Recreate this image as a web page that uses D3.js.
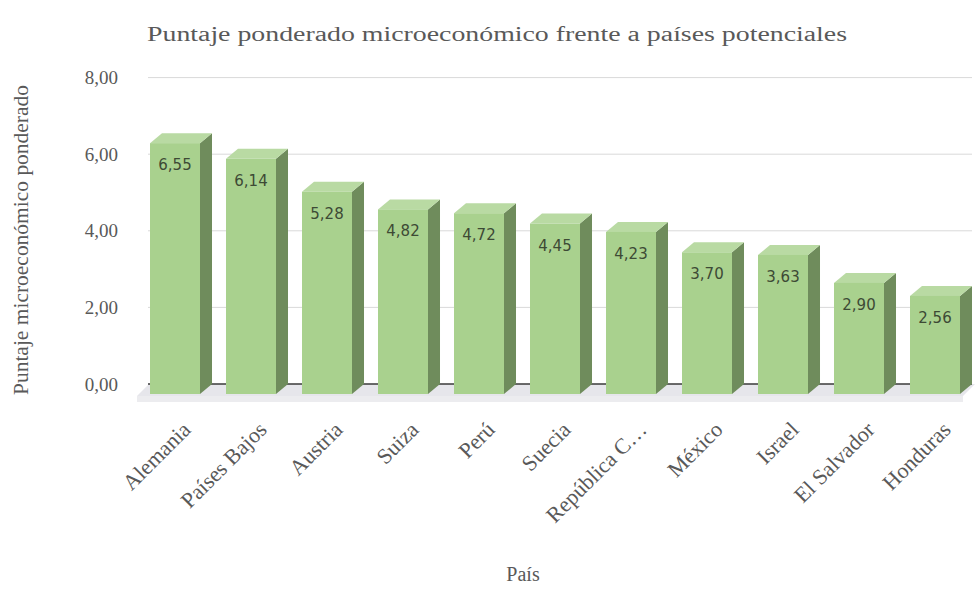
<!DOCTYPE html>
<html><head><meta charset="utf-8">
<script src="https://cdn.jsdelivr.net/npm/d3@7"></script>
<style>body{margin:0;background:#fff}</style>
</head><body><svg id="c" width="978" height="591"></svg>
<script>
const categories = ["Alemania","Países Bajos","Austria","Suiza","Perú","Suecia","República C…","México","Israel","El Salvador","Honduras"];
const values = [6.55,6.14,5.28,4.82,4.72,4.45,4.23,3.70,3.63,2.90,2.56];
const yTicks = [0,2,4,6,8];
const titleText = "Puntaje ponderado microeconómico frente a países potenciales";
const yTitle = "Puntaje microeconómico ponderado";
const xTitle = "País";

const svg = d3.select("#c");
const serif = "'Liberation Serif', 'DejaVu Serif', serif";
const dx = 12, dy = -10;
const x = d3.scaleBand().domain(categories).range([137, 973]).paddingInner(0.342).paddingOuter(0.171);
const y = d3.scaleLinear().domain([0, 8]).range([394, 87.6]);
const fmt = v => d3.format(".2f")(v).replace(".", ",");

// floor
const floorBack = y(0) + dy;
svg.append("polygon")
  .attr("points", [[137+dx, floorBack],[973+dx-10, floorBack],[973-10, y(0)+2],[137, y(0)+2]].map(p=>p.join(",")).join(" "))
  .attr("fill", "#e6e6eb");
svg.append("rect").attr("x", 137).attr("y", y(0)+2).attr("width", 826).attr("height", 6).attr("fill", "#ececef");

// gridlines on back wall
svg.append("g").selectAll("line").data(yTicks).join("line")
  .attr("x1", 148).attr("x2", 972)
  .attr("y1", d => y(d) + dy).attr("y2", d => y(d) + dy)
  .attr("stroke", d => d === 0 ? "#3a3a3a" : "#d9d9d9")
  .attr("stroke-width", d => d === 0 ? 1.5 : 1);

// tick labels
svg.append("g").selectAll("text").data(yTicks).join("text")
  .attr("x", 118).attr("y", d => y(d) + dy).attr("dy", "0.35em")
  .attr("text-anchor", "end").attr("font-family", serif).attr("font-size", 19)
  .attr("fill", "#595959").text(d => fmt(d));

// bars
const bars = svg.append("g").selectAll("g").data(categories).join("g");
bars.each(function(c, i) {
  const g = d3.select(this);
  const x0 = x(c), w = x.bandwidth(), yt = y(values[i]), yb = y(0);
  g.append("polygon")
    .attr("points", [[x0+w, yt],[x0+w+dx, yt+dy],[x0+w+dx, yb+dy],[x0+w, yb]].map(p=>p.join(",")).join(" "))
    .attr("fill", "#6f8c5c");
  g.append("polygon")
    .attr("points", [[x0, yt],[x0+dx, yt+dy],[x0+w+dx, yt+dy],[x0+w, yt]].map(p=>p.join(",")).join(" "))
    .attr("fill", "#b9daa3");
  g.append("rect").attr("x", x0).attr("y", yt).attr("width", w).attr("height", yb - yt).attr("fill", "#a9d18e");
  g.append("text").attr("x", x0 + w/2).attr("y", yt + 27)
    .attr("text-anchor", "middle").attr("font-family", "'DejaVu Sans', sans-serif").attr("font-size", 15)
    .attr("fill", "#3d4a35").text(fmt(values[i]));
});

// x labels
svg.append("g").selectAll("text").data(categories).join("text")
  .attr("transform", c => `translate(${x(c) + x.bandwidth()/2 + 17},${431}) rotate(-45)`)
  .attr("text-anchor", "end").attr("font-family", serif).attr("font-size", 22)
  .attr("fill", "#595959").text(c => c);

// titles
svg.append("text").attr("x", 497).attr("y", 41).attr("text-anchor", "middle")
  .attr("font-family", serif).attr("font-size", 20).attr("fill", "#595959")
  .attr("textLength", 700).attr("lengthAdjust", "spacingAndGlyphs").text(titleText);
svg.append("text").attr("transform", "translate(28,240) rotate(-90)").attr("text-anchor", "middle")
  .attr("font-family", serif).attr("font-size", 20).attr("fill", "#595959")
  .attr("textLength", 310).attr("lengthAdjust", "spacingAndGlyphs").text(yTitle);
svg.append("text").attr("x", 523).attr("y", 581).attr("text-anchor", "middle")
  .attr("font-family", serif).attr("font-size", 20).attr("fill", "#595959").text(xTitle);
</script></body></html>
